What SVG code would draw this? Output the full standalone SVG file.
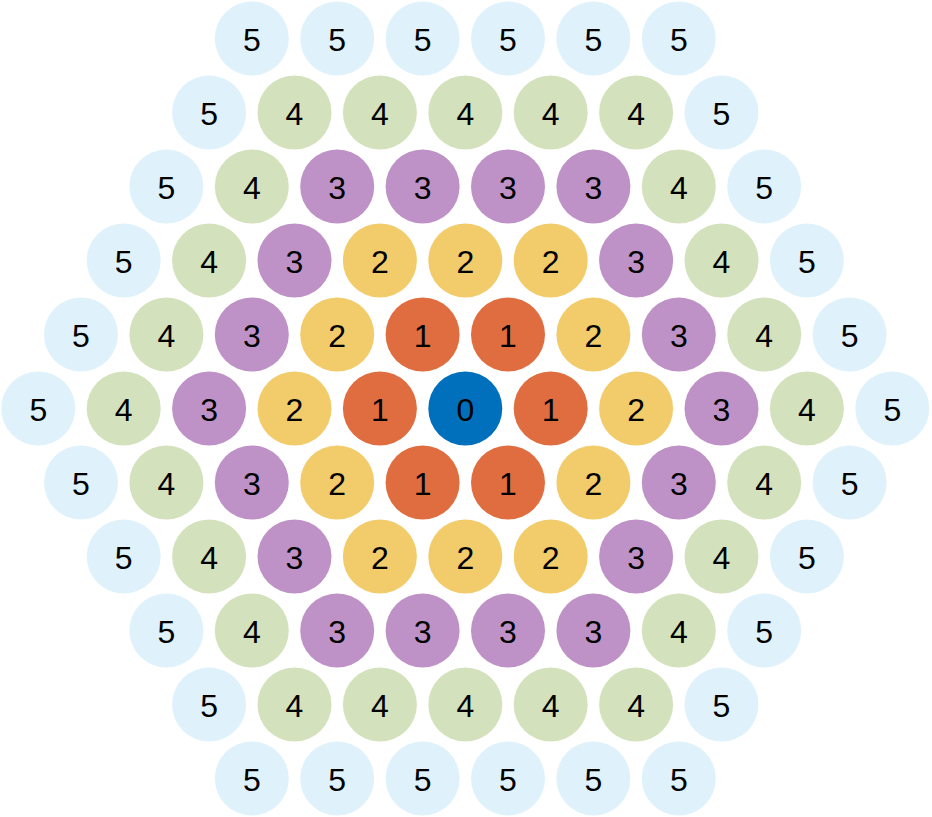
<svg xmlns="http://www.w3.org/2000/svg" width="932" height="817" viewBox="0 0 932 817">
<style>
circle{stroke:none}
.d0{fill:#0070bc}.d1{fill:#e06d3f}.d2{fill:#f2cb6b}.d3{fill:#be92c6}.d4{fill:#d3e2bc}.d5{fill:#dff2fb}
text{font-family:"Liberation Sans",Arial,sans-serif;font-size:32px;fill:#000;text-anchor:middle}
</style>
<rect width="932" height="817" fill="#fff"/>
<g id="connectors"/>
<g id="r0">
<g id="n0_0"><circle class="d5" cx="251.8" cy="38.5" r="37"/><text x="251.8" y="51">5</text></g>
<g id="n0_1"><circle class="d5" cx="337.2" cy="38.5" r="37"/><text x="337.2" y="51">5</text></g>
<g id="n0_2"><circle class="d5" cx="422.6" cy="38.5" r="37"/><text x="422.6" y="51">5</text></g>
<g id="n0_3"><circle class="d5" cx="508.0" cy="38.5" r="37"/><text x="508.0" y="51">5</text></g>
<g id="n0_4"><circle class="d5" cx="593.4" cy="38.5" r="37"/><text x="593.4" y="51">5</text></g>
<g id="n0_5"><circle class="d5" cx="678.8" cy="38.5" r="37"/><text x="678.8" y="51">5</text></g>
</g>
<g id="r1">
<g id="n1_0"><circle class="d5" cx="209.1" cy="112.5" r="37"/><text x="209.1" y="125">5</text></g>
<g id="n1_1"><circle class="d4" cx="294.5" cy="112.5" r="37"/><text x="294.5" y="125">4</text></g>
<g id="n1_2"><circle class="d4" cx="379.9" cy="112.5" r="37"/><text x="379.9" y="125">4</text></g>
<g id="n1_3"><circle class="d4" cx="465.3" cy="112.5" r="37"/><text x="465.3" y="125">4</text></g>
<g id="n1_4"><circle class="d4" cx="550.7" cy="112.5" r="37"/><text x="550.7" y="125">4</text></g>
<g id="n1_5"><circle class="d4" cx="636.1" cy="112.5" r="37"/><text x="636.1" y="125">4</text></g>
<g id="n1_6"><circle class="d5" cx="721.5" cy="112.5" r="37"/><text x="721.5" y="125">5</text></g>
</g>
<g id="r2">
<g id="n2_0"><circle class="d5" cx="166.4" cy="186.5" r="37"/><text x="166.4" y="199">5</text></g>
<g id="n2_1"><circle class="d4" cx="251.8" cy="186.5" r="37"/><text x="251.8" y="199">4</text></g>
<g id="n2_2"><circle class="d3" cx="337.2" cy="186.5" r="37"/><text x="337.2" y="199">3</text></g>
<g id="n2_3"><circle class="d3" cx="422.6" cy="186.5" r="37"/><text x="422.6" y="199">3</text></g>
<g id="n2_4"><circle class="d3" cx="508.0" cy="186.5" r="37"/><text x="508.0" y="199">3</text></g>
<g id="n2_5"><circle class="d3" cx="593.4" cy="186.5" r="37"/><text x="593.4" y="199">3</text></g>
<g id="n2_6"><circle class="d4" cx="678.8" cy="186.5" r="37"/><text x="678.8" y="199">4</text></g>
<g id="n2_7"><circle class="d5" cx="764.2" cy="186.5" r="37"/><text x="764.2" y="199">5</text></g>
</g>
<g id="r3">
<g id="n3_0"><circle class="d5" cx="123.7" cy="260.5" r="37"/><text x="123.7" y="273">5</text></g>
<g id="n3_1"><circle class="d4" cx="209.1" cy="260.5" r="37"/><text x="209.1" y="273">4</text></g>
<g id="n3_2"><circle class="d3" cx="294.5" cy="260.5" r="37"/><text x="294.5" y="273">3</text></g>
<g id="n3_3"><circle class="d2" cx="379.9" cy="260.5" r="37"/><text x="379.9" y="273">2</text></g>
<g id="n3_4"><circle class="d2" cx="465.3" cy="260.5" r="37"/><text x="465.3" y="273">2</text></g>
<g id="n3_5"><circle class="d2" cx="550.7" cy="260.5" r="37"/><text x="550.7" y="273">2</text></g>
<g id="n3_6"><circle class="d3" cx="636.1" cy="260.5" r="37"/><text x="636.1" y="273">3</text></g>
<g id="n3_7"><circle class="d4" cx="721.5" cy="260.5" r="37"/><text x="721.5" y="273">4</text></g>
<g id="n3_8"><circle class="d5" cx="806.9" cy="260.5" r="37"/><text x="806.9" y="273">5</text></g>
</g>
<g id="r4">
<g id="n4_0"><circle class="d5" cx="81.0" cy="334.5" r="37"/><text x="81.0" y="347">5</text></g>
<g id="n4_1"><circle class="d4" cx="166.4" cy="334.5" r="37"/><text x="166.4" y="347">4</text></g>
<g id="n4_2"><circle class="d3" cx="251.8" cy="334.5" r="37"/><text x="251.8" y="347">3</text></g>
<g id="n4_3"><circle class="d2" cx="337.2" cy="334.5" r="37"/><text x="337.2" y="347">2</text></g>
<g id="n4_4"><circle class="d1" cx="422.6" cy="334.5" r="37"/><text x="422.6" y="347">1</text></g>
<g id="n4_5"><circle class="d1" cx="508.0" cy="334.5" r="37"/><text x="508.0" y="347">1</text></g>
<g id="n4_6"><circle class="d2" cx="593.4" cy="334.5" r="37"/><text x="593.4" y="347">2</text></g>
<g id="n4_7"><circle class="d3" cx="678.8" cy="334.5" r="37"/><text x="678.8" y="347">3</text></g>
<g id="n4_8"><circle class="d4" cx="764.2" cy="334.5" r="37"/><text x="764.2" y="347">4</text></g>
<g id="n4_9"><circle class="d5" cx="849.6" cy="334.5" r="37"/><text x="849.6" y="347">5</text></g>
</g>
<g id="r5">
<g id="n5_0"><circle class="d5" cx="38.3" cy="408.5" r="37"/><text x="38.3" y="421">5</text></g>
<g id="n5_1"><circle class="d4" cx="123.7" cy="408.5" r="37"/><text x="123.7" y="421">4</text></g>
<g id="n5_2"><circle class="d3" cx="209.1" cy="408.5" r="37"/><text x="209.1" y="421">3</text></g>
<g id="n5_3"><circle class="d2" cx="294.5" cy="408.5" r="37"/><text x="294.5" y="421">2</text></g>
<g id="n5_4"><circle class="d1" cx="379.9" cy="408.5" r="37"/><text x="379.9" y="421">1</text></g>
<g id="n5_5"><circle class="d0" cx="465.3" cy="408.5" r="37"/><text x="465.3" y="421">0</text></g>
<g id="n5_6"><circle class="d1" cx="550.7" cy="408.5" r="37"/><text x="550.7" y="421">1</text></g>
<g id="n5_7"><circle class="d2" cx="636.1" cy="408.5" r="37"/><text x="636.1" y="421">2</text></g>
<g id="n5_8"><circle class="d3" cx="721.5" cy="408.5" r="37"/><text x="721.5" y="421">3</text></g>
<g id="n5_9"><circle class="d4" cx="806.9" cy="408.5" r="37"/><text x="806.9" y="421">4</text></g>
<g id="n5_10"><circle class="d5" cx="892.3" cy="408.5" r="37"/><text x="892.3" y="421">5</text></g>
</g>
<g id="r6">
<g id="n6_0"><circle class="d5" cx="81.0" cy="482.5" r="37"/><text x="81.0" y="495">5</text></g>
<g id="n6_1"><circle class="d4" cx="166.4" cy="482.5" r="37"/><text x="166.4" y="495">4</text></g>
<g id="n6_2"><circle class="d3" cx="251.8" cy="482.5" r="37"/><text x="251.8" y="495">3</text></g>
<g id="n6_3"><circle class="d2" cx="337.2" cy="482.5" r="37"/><text x="337.2" y="495">2</text></g>
<g id="n6_4"><circle class="d1" cx="422.6" cy="482.5" r="37"/><text x="422.6" y="495">1</text></g>
<g id="n6_5"><circle class="d1" cx="508.0" cy="482.5" r="37"/><text x="508.0" y="495">1</text></g>
<g id="n6_6"><circle class="d2" cx="593.4" cy="482.5" r="37"/><text x="593.4" y="495">2</text></g>
<g id="n6_7"><circle class="d3" cx="678.8" cy="482.5" r="37"/><text x="678.8" y="495">3</text></g>
<g id="n6_8"><circle class="d4" cx="764.2" cy="482.5" r="37"/><text x="764.2" y="495">4</text></g>
<g id="n6_9"><circle class="d5" cx="849.6" cy="482.5" r="37"/><text x="849.6" y="495">5</text></g>
</g>
<g id="r7">
<g id="n7_0"><circle class="d5" cx="123.7" cy="556.5" r="37"/><text x="123.7" y="569">5</text></g>
<g id="n7_1"><circle class="d4" cx="209.1" cy="556.5" r="37"/><text x="209.1" y="569">4</text></g>
<g id="n7_2"><circle class="d3" cx="294.5" cy="556.5" r="37"/><text x="294.5" y="569">3</text></g>
<g id="n7_3"><circle class="d2" cx="379.9" cy="556.5" r="37"/><text x="379.9" y="569">2</text></g>
<g id="n7_4"><circle class="d2" cx="465.3" cy="556.5" r="37"/><text x="465.3" y="569">2</text></g>
<g id="n7_5"><circle class="d2" cx="550.7" cy="556.5" r="37"/><text x="550.7" y="569">2</text></g>
<g id="n7_6"><circle class="d3" cx="636.1" cy="556.5" r="37"/><text x="636.1" y="569">3</text></g>
<g id="n7_7"><circle class="d4" cx="721.5" cy="556.5" r="37"/><text x="721.5" y="569">4</text></g>
<g id="n7_8"><circle class="d5" cx="806.9" cy="556.5" r="37"/><text x="806.9" y="569">5</text></g>
</g>
<g id="r8">
<g id="n8_0"><circle class="d5" cx="166.4" cy="630.5" r="37"/><text x="166.4" y="643">5</text></g>
<g id="n8_1"><circle class="d4" cx="251.8" cy="630.5" r="37"/><text x="251.8" y="643">4</text></g>
<g id="n8_2"><circle class="d3" cx="337.2" cy="630.5" r="37"/><text x="337.2" y="643">3</text></g>
<g id="n8_3"><circle class="d3" cx="422.6" cy="630.5" r="37"/><text x="422.6" y="643">3</text></g>
<g id="n8_4"><circle class="d3" cx="508.0" cy="630.5" r="37"/><text x="508.0" y="643">3</text></g>
<g id="n8_5"><circle class="d3" cx="593.4" cy="630.5" r="37"/><text x="593.4" y="643">3</text></g>
<g id="n8_6"><circle class="d4" cx="678.8" cy="630.5" r="37"/><text x="678.8" y="643">4</text></g>
<g id="n8_7"><circle class="d5" cx="764.2" cy="630.5" r="37"/><text x="764.2" y="643">5</text></g>
</g>
<g id="r9">
<g id="n9_0"><circle class="d5" cx="209.1" cy="704.5" r="37"/><text x="209.1" y="717">5</text></g>
<g id="n9_1"><circle class="d4" cx="294.5" cy="704.5" r="37"/><text x="294.5" y="717">4</text></g>
<g id="n9_2"><circle class="d4" cx="379.9" cy="704.5" r="37"/><text x="379.9" y="717">4</text></g>
<g id="n9_3"><circle class="d4" cx="465.3" cy="704.5" r="37"/><text x="465.3" y="717">4</text></g>
<g id="n9_4"><circle class="d4" cx="550.7" cy="704.5" r="37"/><text x="550.7" y="717">4</text></g>
<g id="n9_5"><circle class="d4" cx="636.1" cy="704.5" r="37"/><text x="636.1" y="717">4</text></g>
<g id="n9_6"><circle class="d5" cx="721.5" cy="704.5" r="37"/><text x="721.5" y="717">5</text></g>
</g>
<g id="r10">
<g id="n10_0"><circle class="d5" cx="251.8" cy="778.5" r="37"/><text x="251.8" y="791">5</text></g>
<g id="n10_1"><circle class="d5" cx="337.2" cy="778.5" r="37"/><text x="337.2" y="791">5</text></g>
<g id="n10_2"><circle class="d5" cx="422.6" cy="778.5" r="37"/><text x="422.6" y="791">5</text></g>
<g id="n10_3"><circle class="d5" cx="508.0" cy="778.5" r="37"/><text x="508.0" y="791">5</text></g>
<g id="n10_4"><circle class="d5" cx="593.4" cy="778.5" r="37"/><text x="593.4" y="791">5</text></g>
<g id="n10_5"><circle class="d5" cx="678.8" cy="778.5" r="37"/><text x="678.8" y="791">5</text></g>
</g>
</svg>
